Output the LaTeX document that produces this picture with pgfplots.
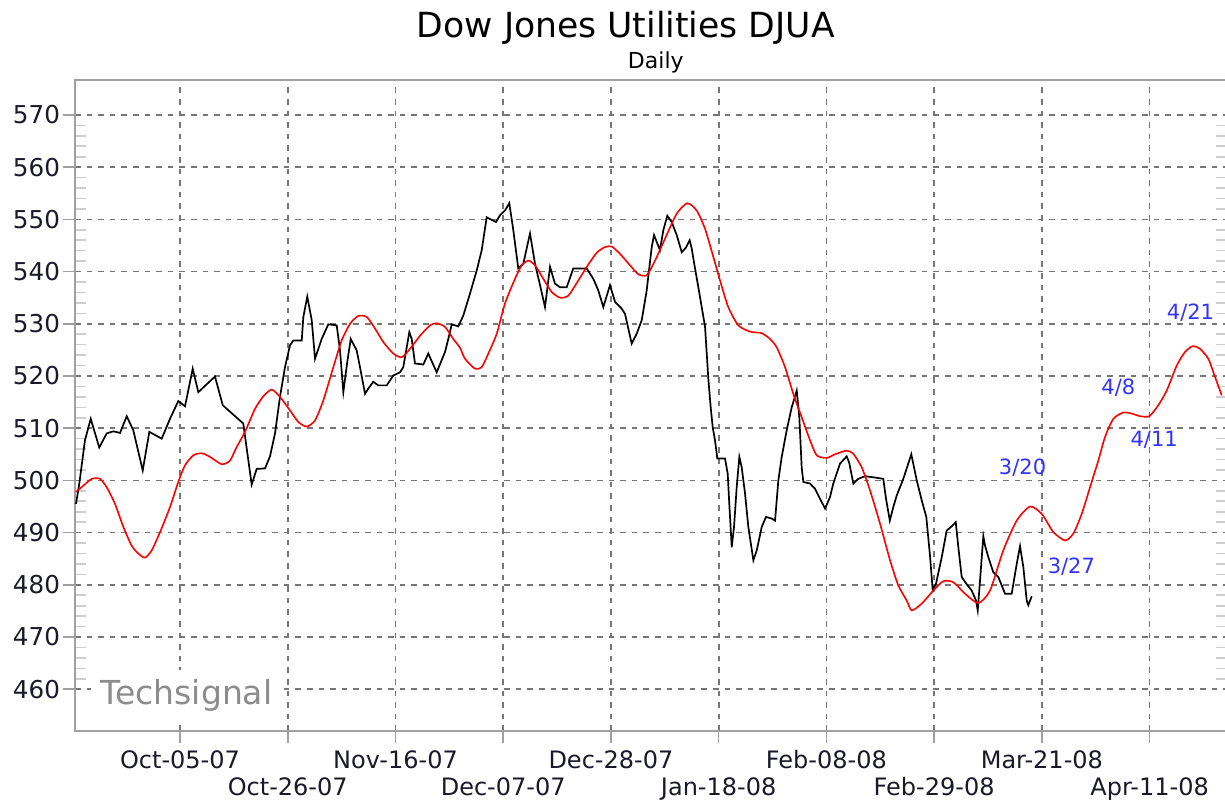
\documentclass[border=0pt]{standalone}
\usepackage{fontspec}
\setmainfont{DejaVu Sans}
\usepackage{pgfplots}
\pgfplotsset{compat=1.18}

\definecolor{gridgray}{RGB}{118,118,118}
\definecolor{framegray}{RGB}{160,160,160}
\definecolor{minorgray}{RGB}{205,205,205}
\definecolor{lblblue}{RGB}{51,51,255}
\definecolor{wmgray}{RGB}{140,140,140}
\definecolor{ticktext}{RGB}{25,25,40}

\begin{document}
\begin{tikzpicture}
\begin{axis}[
  at={(37.5pt,35pt)}, anchor=south west,
  scale only axis, width=575.75pt, height=325.5pt,
  xmin=-14.62, xmax=145.71, ymin=452, ymax=576.7,
  axis line style={framegray, line width=1pt},
  xtick={0,15,...,135},
  xticklabels={{\strut Oct-05-07},{\strut\\Oct-26-07},{\strut Nov-16-07},{\strut\\Dec-07-07},{\strut Dec-28-07},{\strut\\Jan-18-08},{\strut Feb-08-08},{\strut\\Feb-29-08},{\strut Mar-21-08},{\strut\\Apr-11-08}},
  xticklabel style={align=center, font=\fontsize{12}{13.5}\selectfont, text=ticktext},
  ytick={460,470,...,570},
  minor y tick num=4,
  minor x tick num=0,
  xtick pos=bottom,
  tick align=outside,
  major tick length=6pt,
  minor tick length=-5.5pt,
  major tick style={framegray, line width=0.8pt},
  minor tick style={minorgray, line width=0.8pt},
  grid=major,
  major grid style={gridgray, line width=0.85pt, dash pattern=on 2.8pt off 3pt},
  yticklabel style={font=\fontsize{12.3}{13.5}\selectfont, text=ticktext, xshift=2pt},
  /pgf/number format/assume math mode=true,
  clip=false,
]

% DJUA daily close
\addplot[black, line width=0.85pt] coordinates {
(-14.48,495.5) (-14.02,499.4) (-13.23,507.7) (-12.43,511.8) (-11.24,506.3)
(-10.21,509.0) (-9.29,509.4) (-8.35,509.1) (-7.42,512.3) (-6.50,509.6)
(-5.19,501.9) (-4.27,509.3) (-2.55,508.0) (-1.39,511.8) (-0.24,515.2)
(0.70,514.2) (1.77,521.4) (2.55,516.9) (4.87,519.9) (5.95,514.4)
(8.81,510.9) (9.98,499.2) (10.68,502.2) (11.84,502.3) (12.53,504.6)
(13.23,509.0) (13.92,516.0) (14.62,521.7) (15.32,525.9) (15.78,526.8)
(16.95,526.8) (17.17,531.3) (17.72,535.2) (18.34,530.7) (18.80,523.3)
(19.73,527.1) (20.65,529.9) (21.82,529.7) (22.28,524.9) (22.74,516.9)
(23.29,522.7) (23.77,527.1) (24.60,524.9) (25.06,521.7) (25.76,516.6)
(26.22,517.6) (26.91,518.9) (27.61,518.2) (28.78,518.2) (29.70,520.1)
(30.63,520.7) (31.09,521.7) (31.93,528.4) (32.26,527.1) (32.72,522.4)
(33.88,522.2) (34.57,524.3) (35.74,520.7) (36.90,524.6) (37.59,528.4)
(37.83,529.9) (38.75,529.5) (39.45,531.6) (40.38,535.8) (41.31,540.2)
(42.01,544.1) (42.70,550.4) (43.40,549.9) (44.00,549.5) (44.56,550.8)
(45.25,551.7) (45.85,553.1) (46.41,547.9) (47.10,540.6) (47.80,541.5)
(48.73,547.3) (49.43,541.5) (50.13,537.4) (50.82,533.2) (51.52,540.9)
(52.21,537.7) (52.91,537.0) (53.84,537.0) (54.76,540.6) (56.63,540.6)
(57.55,538.6) (58.24,536.4) (58.94,533.2) (59.87,537.4) (60.57,534.2)
(61.50,532.9) (61.96,531.9) (62.89,526.2) (63.59,528.1) (64.29,530.7)
(64.98,536.4) (65.68,544.7) (66.00,547.0) (66.37,545.7) (66.83,544.1)
(67.29,547.9) (67.85,550.7) (68.46,549.5) (69.16,547.0) (69.86,543.7)
(70.45,544.6) (70.96,546.0) (71.25,544.4) (71.71,540.6) (72.17,537.0)
(72.64,533.2) (73.10,529.5) (73.34,524.3) (73.56,519.5) (73.89,514.0)
(74.17,510.2) (74.49,507.7) (74.81,504.2) (75.88,504.2) (76.26,501.3)
(76.48,495.5) (76.82,487.2) (77.14,491.1) (77.51,498.7) (77.88,504.5)
(78.21,502.5) (78.67,497.5) (79.13,491.1) (79.83,484.7) (80.30,486.6)
(81.00,491.1) (81.59,493.0) (82.39,492.7) (82.85,492.3) (83.31,500.0)
(83.78,504.5) (84.47,509.6) (85.17,514.0) (85.87,517.2) (86.23,512.1)
(86.56,502.5) (86.79,499.7) (87.72,499.4) (88.42,498.4) (89.11,496.5)
(89.81,494.6) (90.50,496.8) (90.96,499.4) (91.89,503.2) (92.83,504.6)
(93.19,503.3) (93.75,499.4) (94.44,500.3) (95.38,500.8) (96.53,500.6)
(97.92,500.3) (98.30,496.5) (98.83,492.3) (99.32,494.9) (99.79,497.1)
(100.71,500.3) (101.82,505.0) (102.58,500.0) (103.27,496.2) (103.91,493.0)
(104.43,485.5) (104.80,479.0) (105.26,480.2) (106.06,485.3) (106.75,490.4)
(107.45,491.2) (108.01,492.0) (108.37,487.2) (108.84,481.5) (109.54,480.1)
(110.23,478.9) (110.83,477.0) (111.07,475.1) (111.39,480.8) (111.85,489.3)
(112.09,487.5) (112.55,485.3) (113.24,482.4) (113.94,481.5) (114.87,478.3)
(115.80,478.3) (116.50,484.0) (116.96,487.4) (117.42,483.4) (117.89,477.0)
(118.11,476.1) (118.59,477.8)
};

% smoothed projection
\addplot[red, line width=0.8pt, smooth, tension=0.4] coordinates {
(-14.48,497.8) (-13.46,499.0) (-12.29,500.3) (-11.14,500.3) (-10.21,498.7)
(-9.05,495.5) (-7.89,491.1) (-6.73,487.5) (-5.81,486.0) (-4.87,485.2)
(-3.94,486.6) (-2.78,490.1) (-1.39,494.9) (-0.24,499.7) (0.70,502.9)
(1.85,504.8) (3.02,505.2) (4.18,504.5) (5.81,503.1) (6.96,503.8)
(7.89,506.4) (9.05,509.3) (10.44,513.7) (11.60,516.1) (12.77,517.4)
(13.92,516.0) (15.32,513.4) (16.47,511.2) (17.64,510.3) (18.80,511.5)
(19.95,515.3) (21.35,521.7) (22.51,526.8) (23.67,530.0) (24.83,531.5)
(26.00,531.3) (27.15,529.1) (28.31,526.5) (29.70,524.3) (30.87,523.6)
(32.02,525.2) (33.42,527.7) (34.81,529.7) (35.74,530.1) (36.90,529.4)
(38.05,527.1) (38.99,525.4) (39.68,523.3) (41.08,521.4) (42.01,521.7)
(42.93,524.3) (44.10,528.1) (45.25,533.9) (46.64,538.6) (47.58,541.2)
(48.50,542.1) (49.43,541.2) (50.59,538.6) (51.75,536.1) (52.91,535.0)
(54.07,535.4) (55.46,538.3) (56.63,540.9) (58.02,543.6) (59.18,544.7)
(60.11,544.8) (61.26,543.4) (62.66,541.2) (63.81,539.5) (64.98,539.3)
(66.14,542.1) (67.53,546.3) (69.16,551.1) (70.64,553.1) (71.94,551.7)
(73.10,548.2) (74.26,542.8) (75.19,538.3) (76.34,533.2) (77.74,529.7)
(79.37,528.5) (80.99,528.2) (82.15,527.1) (83.08,525.5) (84.24,521.7)
(85.39,516.6) (86.56,512.1) (87.72,507.7) (88.65,504.8) (90.04,504.3)
(91.20,505.0) (92.83,505.7) (93.75,505.1) (94.92,502.5) (96.07,498.1)
(97.47,491.7) (98.86,484.7) (100.01,479.9) (101.18,477.0) (101.88,475.1)
(103.27,476.4) (104.89,478.9) (106.28,480.7) (107.67,480.5) (109.30,478.3)
(111.15,476.5) (112.78,478.9) (114.63,486.6) (116.50,492.3) (118.35,495.0)
(119.98,493.6) (121.60,490.1) (123.22,488.5) (124.38,489.8) (125.55,493.6)
(126.71,498.7) (127.86,503.8) (128.79,508.3) (129.95,511.8) (131.34,513.0)
(132.51,512.8) (133.67,512.3) (134.96,512.3) (136.21,514.4) (137.38,517.2)
(138.78,522.0) (139.93,524.6) (141.00,525.7) (142.02,525.2) (143.18,523.3)
(144.11,519.8) (145.04,516.3)
};

\begin{scope}[font=\fontsize{10.5}{12}\selectfont, text=lblblue]
\node[anchor=base] at (axis cs:117.31,501.05) {3/20};
\node[anchor=base] at (axis cs:124.11,482.23) {3/27};
\node[anchor=base] at (axis cs:130.65,516.38) {4/8};
\node[anchor=base] at (axis cs:135.64,506.47) {4/11};
\node[anchor=base] at (axis cs:140.70,530.87) {4/21};
\end{scope}

\node[anchor=base, fill=white, inner xsep=5pt, inner ysep=5pt,
  font=\fontsize{16.5}{18}\selectfont, text=wmgray] at (axis cs:0.91,457.0) {Techsignal};
\end{axis}

\node[anchor=base, font=\fontsize{17.3}{20}\selectfont] at (312.9pt,381.65pt) {Dow Jones Utilities DJUA};
\node[anchor=base, font=\fontsize{11}{13}\selectfont] at (327.9pt,366.35pt) {Daily};

\pgfresetboundingbox
\path[use as bounding box] (0,0) rectangle (612.5pt,400.5pt);
\end{tikzpicture}
\end{document}
